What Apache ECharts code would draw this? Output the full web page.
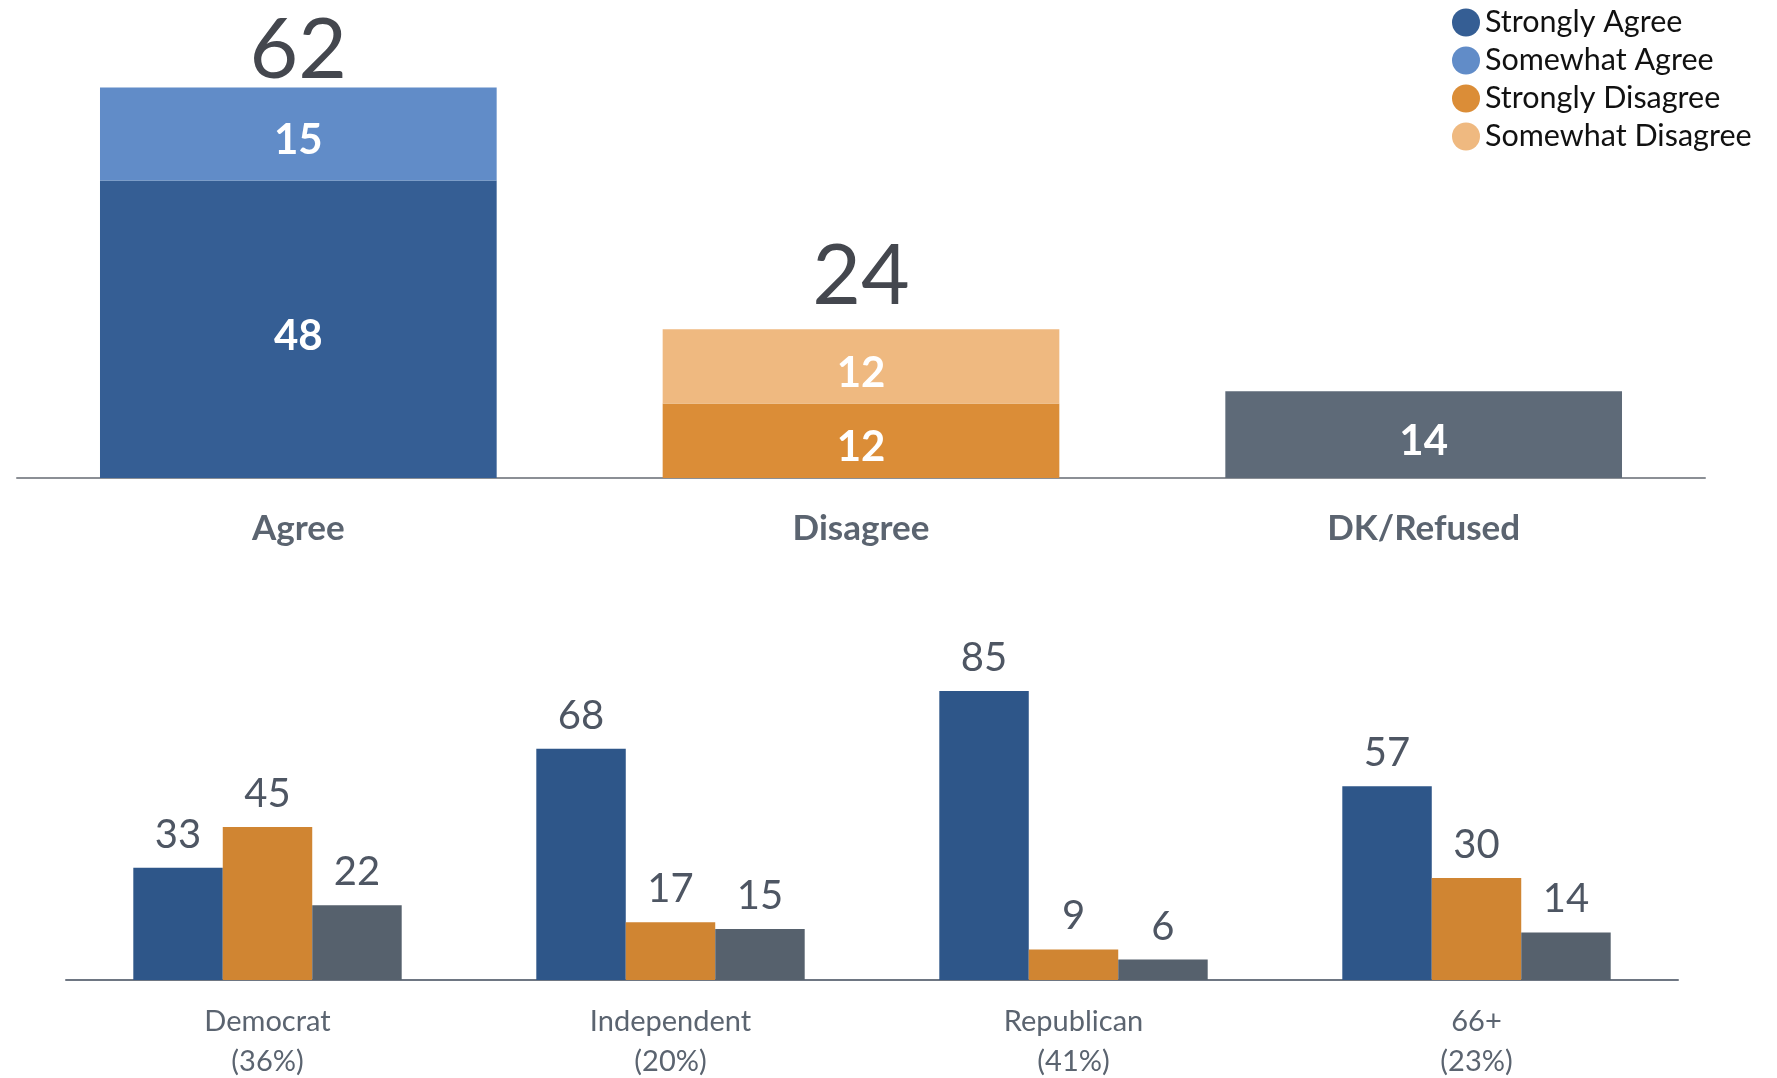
<!DOCTYPE html>
<html><head><meta charset="utf-8">
<script src="https://cdn.jsdelivr.net/npm/echarts@6/dist/echarts.min.js"></script>
<style>html,body{margin:0;padding:0;background:#fff}#c{width:1777px;height:1078px}</style>
</head><body><div id="c"></div>
<script>
// Top chart data
const topCategories = ['Agree', 'Disagree', 'DK/Refused'];
const stronglyAgree = [48, '-', '-'];
const somewhatAgree = [15, '-', '-'];
const stronglyDisagree = ['-', 12, '-'];
const somewhatDisagree = ['-', 12, '-'];
const dkRefused = ['-', '-', 14];
const topTotals = [62, 24, null];

// Bottom chart data
const groupCategories = ['Democrat\n(36%)', 'Independent\n(20%)', 'Republican\n(41%)', '66+\n(23%)'];
const groupAgree = [33, 68, 85, 57];
const groupDisagree = [45, 17, 9, 30];
const groupDK = [22, 15, 6, 14];

// label styling (not data)
const totalLabelDistance = [-6, 10, 0];

const FONT = 'Lato';
const inLabel = {show: true, position: 'inside', offset: [0, 7], color: '#fff', fontFamily: FONT, fontWeight: 'bold', fontSize: 42};
const valLabel = {show: true, position: 'top', distance: 13, color: '#4e5663', fontFamily: FONT, fontSize: 40};

const chart = echarts.init(document.getElementById('c'));
chart.setOption({
  backgroundColor: '#ffffff',
  animation: false,
  legend: {
    data: ['Strongly Agree', 'Somewhat Agree', 'Strongly Disagree', 'Somewhat Disagree'],
    orient: 'vertical', left: 1447, top: 2,
    icon: 'circle', itemWidth: 28, itemHeight: 28, itemGap: 7,
    textStyle: {fontFamily: FONT, fontSize: 30.5, lineHeight: 28, color: '#111'},
    selectedMode: false
  },
  grid: [
    {left: 17, right: 72, top: 44, bottom: 600, outerBoundsMode: 'none', containLabel: false},
    {left: 66, right: 99, top: 640, bottom: 98, outerBoundsMode: 'none', containLabel: false}
  ],
  xAxis: [
    {gridIndex: 0, type: 'category', data: topCategories,
     axisLine: {lineStyle: {color: '#8b8f95', width: 2}}, axisTick: {show: false},
     axisLabel: {margin: 33, color: '#5b6470', fontFamily: FONT, fontWeight: 'bold', fontSize: 35}},
    {gridIndex: 1, type: 'category', data: groupCategories,
     axisLine: {lineStyle: {color: '#6e7682', width: 2}}, axisTick: {show: false},
     axisLabel: {margin: 22, color: '#5b6470', fontFamily: FONT, fontSize: 29, lineHeight: 40}}
  ],
  yAxis: [
    {gridIndex: 0, type: 'value', min: 0, max: 70, show: false},
    {gridIndex: 1, type: 'value', min: 0, max: 100, show: false}
  ],
  series: [
    {name: 'Strongly Agree', type: 'bar', stack: 't', barWidth: '70.5%', data: stronglyAgree,
     itemStyle: {color: '#355e94'}, label: inLabel},
    {name: 'Strongly Disagree', type: 'bar', stack: 't', data: stronglyDisagree,
     itemStyle: {color: '#db8d37'}, label: inLabel},
    {name: 'DK/Refused', type: 'bar', stack: 't', data: dkRefused,
     itemStyle: {color: '#5e6a78'}, label: inLabel},
    {name: 'Somewhat Agree', type: 'bar', stack: 't', data: somewhatAgree,
     itemStyle: {color: '#618cc8'}, label: inLabel},
    {name: 'Somewhat Disagree', type: 'bar', stack: 't', data: somewhatDisagree,
     itemStyle: {color: '#efb980'}, label: inLabel},
    {name: 'Total', type: 'bar', stack: 't',
     data: topTotals.map((v, i) => v == null ? '-' : {value: 0, label: {distance: totalLabelDistance[i]}}),
     itemStyle: {color: 'transparent'},
     label: {show: true, position: 'top', color: '#44474e', fontFamily: FONT, fontSize: 84,
       formatter: p => topTotals[p.dataIndex] == null ? '' : String(topTotals[p.dataIndex])}},
    {name: 'Agree (group)', type: 'bar', xAxisIndex: 1, yAxisIndex: 1, barWidth: '22.2%', barGap: '0%',
     data: groupAgree, itemStyle: {color: '#2e5689'}, label: valLabel},
    {name: 'Disagree (group)', type: 'bar', xAxisIndex: 1, yAxisIndex: 1, barWidth: '22.2%', barGap: '0%',
     data: groupDisagree, itemStyle: {color: '#d08532'}, label: valLabel},
    {name: 'DK (group)', type: 'bar', xAxisIndex: 1, yAxisIndex: 1, barWidth: '22.2%', barGap: '0%',
     data: groupDK, itemStyle: {color: '#56616d'}, label: valLabel}
  ]
});
</script></body></html>
